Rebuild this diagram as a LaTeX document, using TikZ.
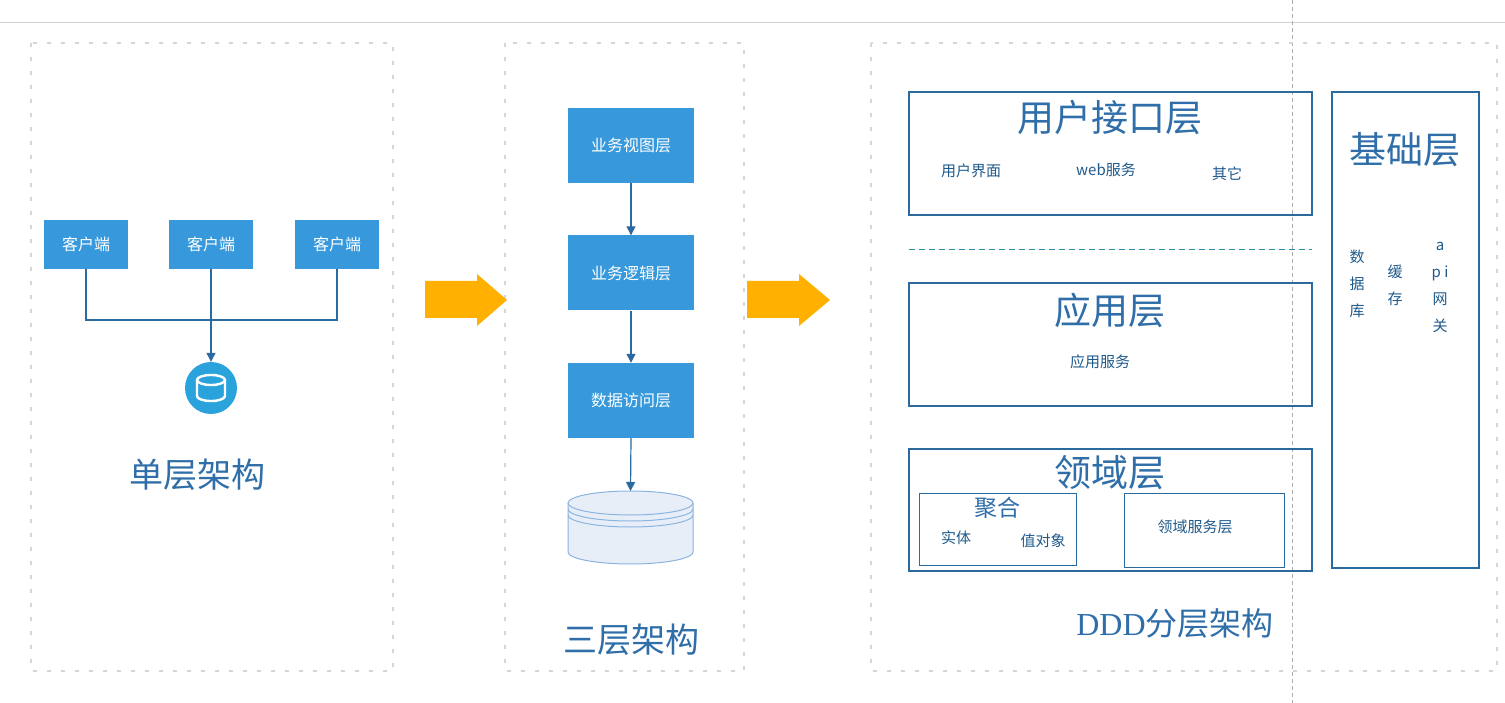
\documentclass[tikz,border=0pt]{standalone}
\usepackage{fontspec}
\setmainfont{Noto Sans CJK SC}
\newfontfamily\serifl{Liberation Serif}
\usetikzlibrary{arrows.meta}
\definecolor{bfill}{HTML}{3799DB}
\definecolor{lineblue}{HTML}{2A6A9E}
\definecolor{titleblue}{HTML}{2F6EA8}
\definecolor{txtblue}{HTML}{1F5A8C}
\definecolor{dotgray}{HTML}{D6D6D6}
\definecolor{orangearrow}{HTML}{FFB000}
\definecolor{cylfill}{HTML}{E8EEF8}
\definecolor{cylline}{HTML}{8AB4E0}
\definecolor{dbcircle}{HTML}{2AA3DD}
\definecolor{dashteal}{HTML}{2A8AA0}
\begin{document}
\begin{tikzpicture}[x=1pt,y=-1pt,
  bluebox/.style={fill=bfill,draw=none,minimum width=84pt,minimum height=49pt,inner sep=0,text=white,font=\fontsize{16}{16}\selectfont},
  midbox/.style={fill=bfill,draw=none,minimum width=126pt,minimum height=75pt,inner sep=0,text=white,font=\fontsize{16}{16}\selectfont},
  conn/.style={draw=lineblue,line width=1.2pt},
  arr/.style={conn,-{Triangle[length=9pt,width=9pt]}},
  dotbox/.style={draw=dotgray,line width=2pt,dash pattern=on 4pt off 10pt},
  layerbox/.style={draw=lineblue,line width=2pt,fill=none,inner sep=0},
  subbox/.style={draw=lineblue,line width=1pt,fill=none,inner sep=0},
  bigtitle/.style={inner sep=0,text=titleblue,font=\fontsize{37}{37}\selectfont},
  sectitle/.style={inner sep=0,text=titleblue,font=\fontsize{34}{34}\selectfont},
  midtitle/.style={inner sep=0,text=titleblue,font=\fontsize{23}{23}\selectfont},
  small/.style={inner sep=0,text=txtblue,font=\fontsize{15}{15}\selectfont},
  vsmall/.style={inner sep=0,text=txtblue,align=center,font=\fontsize{15}{27}\selectfont}
]
\useasboundingbox (0,0) rectangle (1505,703);
\fill[white] (0,0) rectangle (1505,703);
% page guides
\draw[draw=black!18,line width=1pt] (0,23) -- (1505,23);
\draw[draw=black!32,line width=1pt,dash pattern=on 4pt off 3pt] (1292,0) -- (1292,703);
% section boxes
\draw[dotbox] (31,43) rectangle (393,671);
\draw[dotbox] (505,43) rectangle (744,671);
\draw[dotbox] (871,43) rectangle (1497,671);

% ---- single layer ----
\node[bluebox] (c1) at (86,244.5) {客户端};
\node[bluebox] (c2) at (211,244.5) {客户端};
\node[bluebox] (c3) at (337,244.5) {客户端};
\coordinate (j) at (211,320);
\node[circle,fill=dbcircle,minimum size=52pt,inner sep=0] (db) at (211,388) {};
\draw[white,line width=2.4pt] (211,380) ellipse [x radius=14,y radius=5];
\draw[white,line width=2.4pt] (197,380) -- (197,396) arc[start angle=180,end angle=0,x radius=14,y radius=5] -- (225,380);
\draw[conn] (c1.south) |- (j) -| (c3.south);
\draw[arr] (c2.south) -- (db.north);
\node[sectitle] (t1) at (197,475) {单层架构};

% ---- orange arrows ----
\fill[orangearrow] (425,281) -- (477,281) -- (477,274) -- (507,300) -- (477,326) -- (477,318) -- (425,318) -- cycle;
\fill[orangearrow] (747,281) -- (799,281) -- (799,274) -- (830,300) -- (799,326) -- (799,318) -- (747,318) -- cycle;

% ---- three layer ----
\node[midbox] (d1) at (631,145.5) {业务视图层};
\node[midbox] (d2) at (631,273) {业务逻辑层};
\node[midbox] (d3) at (631,400.5) {数据访问层};
\fill[cylfill] (568,503) -- (568,552) arc[start angle=180,end angle=0,x radius=62.5,y radius=12] -- (693,503) arc[start angle=0,end angle=-180,x radius=62.5,y radius=12] -- cycle;
\draw[cylline,line width=1pt] (568,503) -- (568,552) arc[start angle=180,end angle=0,x radius=62.5,y radius=12] -- (693,503);
\draw[cylline,line width=1pt] (630.5,503) ellipse [x radius=62.5,y radius=12];
\draw[cylline,line width=1pt] (568,509) arc[start angle=180,end angle=0,x radius=62.5,y radius=12];
\draw[cylline,line width=1pt] (568,515) arc[start angle=180,end angle=0,x radius=62.5,y radius=12];
\coordinate (cyltop) at (630.5,491);
\draw[arr] (d1.south) -- (d2.north);
\draw[arr] (d2.south) -- (d3.north);
\draw[arr] (d3.south) -- (cyltop);
\node[sectitle] (t2) at (631,640) {三层架构};

% ---- DDD ----
\node[layerbox,minimum width=403pt,minimum height=123pt] (ui) at (1110.5,153.5) {};
\node[bigtitle] at (1110,118) {用户接口层};
\node[small] at (971,171) {用户界面};
\node[small] at (1106,170) {web服务};
\node[small] at (1227,174) {其它};
\coordinate (dl) at (909,250);
\coordinate (dr) at (1312,250);
\draw[dashteal,line width=1pt,dash pattern=on 6pt off 4pt] (dl) -- (dr);
\node[layerbox,minimum width=403pt,minimum height=123pt] (app) at (1110.5,344.5) {};
\node[bigtitle] at (1110,310) {应用层};
\node[small] at (1100,362) {应用服务};
\node[layerbox,minimum width=403pt,minimum height=122pt] (dom) at (1110.5,510) {};
\node[bigtitle] at (1110,473) {领域层};
\node[subbox,minimum width=157pt,minimum height=72pt] (agg) at (997.5,529) {};
\node[midtitle] at (997,508) {聚合};
\node[small] at (956,538) {实体};
\node[small] at (1043,541) {值对象};
\node[subbox,minimum width=160pt,minimum height=74pt] (dsvc) at (1204,530) {};
\node[small] at (1195,527) {领域服务层};
\node[layerbox,minimum width=147pt,minimum height=476pt] (infra) at (1405.5,330) {};
\node[bigtitle] at (1405,150) {基础层};
\node[vsmall] at (1357,284) {数\\据\\库};
\node[vsmall] at (1395,285.5) {缓\\存};
\node[vsmall] at (1440,287) {a\\p i\\网\\关};
\node[inner sep=0,text=titleblue,font=\fontsize{32}{32}\selectfont] (t3) at (1175,623) {{\serifl DDD}分层架构};
\end{tikzpicture}
\end{document}
